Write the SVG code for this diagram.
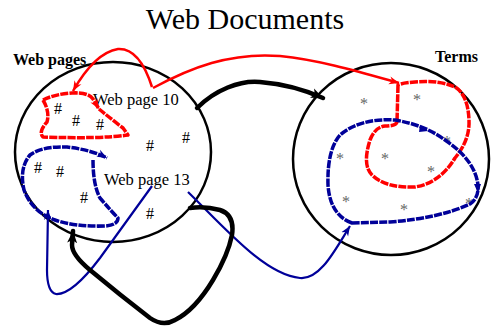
<svg xmlns="http://www.w3.org/2000/svg" width="492" height="326" viewBox="0 0 492 326">
<style>
.t{font-family:"Liberation Serif","Times New Roman",serif;fill:#000}
.b{font-weight:bold;font-size:16px}
.h{font-size:16px;text-anchor:middle}
.s{font-size:16px;text-anchor:middle;fill:#666}
.ell{fill:none;stroke:#000;stroke-width:2.5}
.rd{fill:none;stroke:#f00;stroke-width:3.5;stroke-dasharray:8 1.2;stroke-linejoin:round}
.bd{fill:none;stroke:#009;stroke-width:3.5;stroke-dasharray:8 1.2;stroke-linejoin:round}
.rs{fill:none;stroke:#f00;stroke-width:2.5}
.bs{fill:none;stroke:#009;stroke-width:2.2}
.ks{fill:none;stroke:#000;stroke-width:4.5;stroke-linecap:round}
</style>
<defs>
<marker id="ar" markerUnits="userSpaceOnUse" markerWidth="12" markerHeight="10" refX="10" refY="5" orient="auto"><path d="M0,1 L10,5 L0,9 L3,5 Z" fill="#f00"/></marker>
<marker id="ab" markerUnits="userSpaceOnUse" markerWidth="12" markerHeight="10" refX="10" refY="5" orient="auto"><path d="M0,1 L10,5 L0,9 L3,5 Z" fill="#009"/></marker>
<marker id="ak" markerUnits="userSpaceOnUse" markerWidth="14" markerHeight="12" refX="12" refY="6" orient="auto"><path d="M0,1 L12,6 L0,11 L3,6 Z" fill="#000"/></marker>
</defs>
<text class="t" x="245" y="29" font-size="30" text-anchor="middle">Web Documents</text>
<g id="webpages">
<ellipse class="ell" cx="113" cy="152" rx="98" ry="90"/>
<text class="t b" x="13" y="65">Web pages</text>
<text class="t" x="93" y="105" font-size="16.5">Web page 10</text>
<text class="t" x="104" y="185" font-size="16.5">Web page 13</text>
<text class="t h" x="58" y="114">#</text>
<text class="t h" x="76" y="126">#</text>
<text class="t h" x="100" y="130">#</text>
<text class="t h" x="150" y="151">#</text>
<text class="t h" x="186" y="143">#</text>
<text class="t h" x="38" y="173">#</text>
<text class="t h" x="60" y="177">#</text>
<text class="t h" x="84" y="203">#</text>
<text class="t h" x="150" y="219">#</text>
</g>
<g id="terms">
<ellipse class="ell" cx="391" cy="159" rx="98" ry="96"/>
<text class="t b" x="435" y="62">Terms</text>
<text class="t s" x="364" y="109">*</text>
<text class="t s" x="417" y="105">*</text>
<text class="t s" x="447" y="147">*</text>
<text class="t s" x="340" y="164">*</text>
<text class="t s" x="385" y="164">*</text>
<text class="t s" x="431" y="177">*</text>
<text class="t s" x="346" y="207">*</text>
<text class="t s" x="404" y="215">*</text>
<text class="t s" x="469" y="209">*</text>
</g>
<g id="connectors">
<path class="rd" d="M43,100 Q55,94 72,93 Q88,92 93,99 L99,109" marker-end="url(#ar)"/>
<path class="rd" d="M99,109 Q110,118 123,128 L128,135 Q100,139 43,137 Q38,132 47,122 Q50,112 43,100"/>
<path class="rd" d="M398,85 L397,122 Q396,126 385,126 Q375,127 370,140 Q362,165 372,175 Q385,188 415,187 Q440,183 455,158 Q470,140 469,120 Q468,95 455,87 Q440,80 415,82 Q402,83 398,85 Z"/>
<path class="bd" d="M93,160 Q93,185 100,198 Q112,212 118,218 Q118,225 105,226 Q75,227 55,220 Q32,212 24,190 Q19,168 30,155 Q42,146 67,147 Q92,150 107,158" marker-end="url(#ab)"/>
<path class="bd" d="M352,223 Q330,215 328,185 Q327,150 340,135 Q360,118 395,120 Q425,125 445,140 Q475,160 478,185 Q479,198 470,204 Q440,218 390,222 Z"/>
<path d="M420,125 L428,131 L419,132 Z M474,184 L478,193 L481,184 Z" fill="#009"/>
<path class="rs" d="M152,87 C 145,65 135,48 118,49 C 100,52 85,70 73,91" marker-end="url(#ar)"/>
<path class="rs" d="M153,88 C 190,68 230,52 280,56 C 320,60 360,72 399,83" marker-end="url(#ar)"/>
<path class="bs" d="M152,186 L100,258 Q72,295 56,294 Q47,292 47,270 L48,210" marker-end="url(#ab)"/>
<path class="bs" d="M188,192 C 225,228 265,275 300,278 C 320,280 335,250 350,226" marker-end="url(#ab)"/>
<path class="ks" d="M197,108 C 215,90 240,80 260,82 C 285,84 305,90 323,98" marker-end="url(#ak)"/>
<path class="ks" d="M190,208 Q205,206 220,210 Q235,215 232,235 Q228,255 213,280 Q195,310 175,320 Q163,327 150,318 Q120,295 90,270 Q72,255 72,245 L73,231" marker-end="url(#ak)"/>
</g>
</svg>
